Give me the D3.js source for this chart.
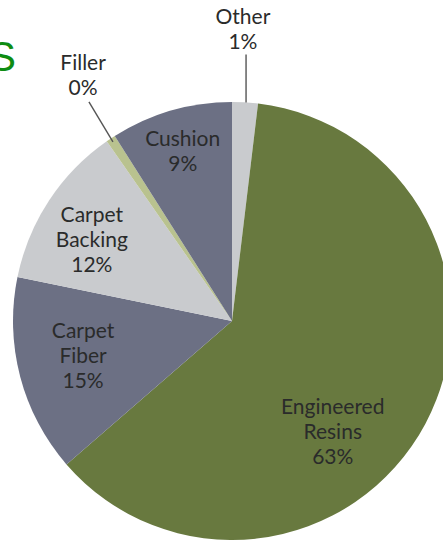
<!DOCTYPE html>
<html>
<head>
<meta charset="utf-8">
<script src="https://cdn.jsdelivr.net/npm/d3@7/dist/d3.min.js"></script>
<style>
  html, body { margin: 0; padding: 0; background: #fff; }
  svg { display: block; }
</style>
</head>
<body>
<script>
// Slice order clockwise from 12 o'clock
const categories = ["Other", "Engineered Resins", "Carpet Fiber", "Carpet Backing", "Filler", "Cushion"];
const sliceValues = [1.9, 61.8, 14.6, 12.1, 0.7, 9.0];
// Percent labels as printed
const pctLabels = ["1%", "63%", "15%", "12%", "0%", "9%"];
const labelLines = [["Other"], ["Engineered", "Resins"], ["Carpet", "Fiber"], ["Carpet", "Backing"], ["Filler"], ["Cushion"]];
const colors = ["#c9cbce", "#68793f", "#6c7084", "#c9cbce", "#b9c28f", "#6c7084"];

const W = 443, H = 543;
const cx = 232, cy = 321, R = 219;

const svg = d3.select("body").append("svg").attr("width", W).attr("height", H);

// partial title remnant
svg.append("text").attr("x", 16).attr("y", 71).attr("text-anchor", "end")
  .attr("font-family", "Liberation Sans, Arial, sans-serif").attr("font-size", 42)
  .attr("fill", "#0e8c12").text("S");

const pie = d3.pie().value(d => d).sort(null);
const arcs = pie(sliceValues);
const arc = d3.arc().innerRadius(0).outerRadius(R);

const g = svg.append("g").attr("transform", `translate(${cx},${cy})`);
g.selectAll("path").data(arcs).join("path")
  .attr("d", arc)
  .attr("fill", (d, i) => colors[i]);

const font = "Lato, 'Open Sans', sans-serif";
const fs = 21, lh = 25;

function polar(angle, r) { return [Math.sin(angle) * r, -Math.cos(angle) * r]; }

function drawLabel(i, x, y) {
  const lines = labelLines[i].concat([pctLabels[i]]);
  const t = svg.append("text").attr("font-family", font).attr("font-size", fs)
    .attr("fill", "#2a2b2b").attr("text-anchor", "middle");
  lines.forEach((s, k) => {
    t.append("tspan").attr("x", x).attr("y", y + k * lh).text(s);
  });
}

// label layout: offsets of first-line baseline from pie centre, as fractions of R
const labelPos = [
  [0.05, -1.355],   // Other
  [0.46, 0.425],    // Engineered Resins
  [-0.68, 0.078],   // Carpet Fiber
  [-0.64, -0.45],   // Carpet Backing
  [-0.68, -1.146],  // Filler
  [-0.225, -0.80]   // Cushion
];
labelPos.forEach((p, i) => drawLabel(i, cx + p[0] * R, cy + p[1] * R));

// leader lines
{
  const a = arcs[0];
  const mid = (a.startAngle + a.endAngle) / 2;
  const [px, py] = polar(mid, R);
  svg.append("line").attr("x1", cx + px + 1).attr("y1", cy + py).attr("x2", cx + px + 1).attr("y2", cy + py - 48)
    .attr("stroke", "#555").attr("stroke-width", 1.4);
}
{
  const a = arcs[4];
  const mid = (a.startAngle + a.endAngle) / 2;
  const [px, py] = polar(mid, R - 4);
  svg.append("line").attr("x1", cx + px).attr("y1", cy + py).attr("x2", cx + px - 24).attr("y2", cy + py - 40)
    .attr("stroke", "#555").attr("stroke-width", 1.4);
}
</script>
</body>
</html>
